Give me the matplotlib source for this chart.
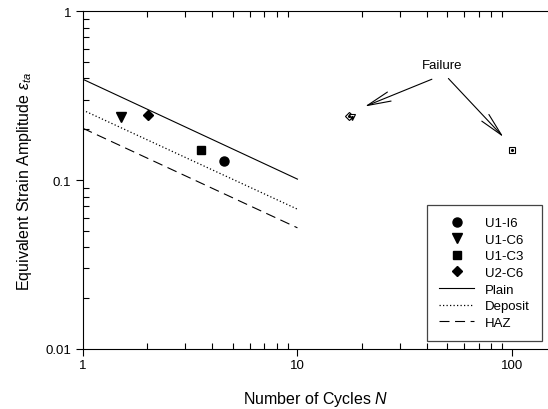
import matplotlib
matplotlib.use("Agg")
import matplotlib.pyplot as plt
import numpy as np
from matplotlib.ticker import LogLocator, NullFormatter, FixedLocator, FixedFormatter

plt.rcParams['font.family'] = ['Liberation Sans', 'DejaVu Sans']
plt.rcParams['mathtext.fontset'] = 'custom'
plt.rcParams['mathtext.rm'] = 'Liberation Sans'
plt.rcParams['mathtext.it'] = 'Liberation Sans:italic'

# ---- data ----
specimens = ['U1-I6', 'U1-C6', 'U1-C3', 'U2-C6']
spec_markers = ['o', 'v', 's', 'D']
spec_N = [4.57, 1.51, 3.54, 2.02]
spec_eps = [0.129, 0.235, 0.151, 0.243]

fail_N = [17.4, 17.9, 100.0]
fail_eps = [0.241, 0.237, 0.151]
fail_markers = ['D', 'v', 's']

curve_names = ['Plain', 'Deposit', 'HAZ']
curve_N = [1, 10]
plain_eps = [0.396, 0.1014]
deposit_eps = [0.260, 0.0673]
haz_eps = [0.203, 0.0522]

x_ticks = [1, 10, 100]
x_ticklabels = ['1', '10', '100']
y_ticks = [0.01, 0.1, 1]
y_ticklabels = ['0.01', '0.1', '1']

# ---- figure ----
fig = plt.figure(figsize=(5.48, 4.10), dpi=100)
ax = fig.add_axes([82.8/548, 60/410, 1 - 82.8/548, 337.7/410])
ax.set_xscale('log')
ax.set_yscale('log')
ax.set_xlim(1, 147)
ax.set_ylim(0.01, 1)

for name, m, n, e in zip(specimens, spec_markers, spec_N, spec_eps):
    ms = 6.5 if m in ('o', 'v') else 5.5
    ax.plot([n], [e], linestyle='none', marker=m, color='black', markersize=ms, label=name)

ax.plot(curve_N, plain_eps, color='black', lw=0.8, linestyle='-', label='Plain')
ax.plot(curve_N, deposit_eps, color='black', lw=0.9, linestyle=(0, (1, 1.8)), label='Deposit')
ax.plot(curve_N, haz_eps, color='black', lw=0.8, linestyle=(0, (9, 5)), label='HAZ')

for n, e, m in zip(fail_N, fail_eps, fail_markers):
    ax.plot([n], [e], linestyle='none', marker=m, markerfacecolor='white',
            markeredgecolor='black', markeredgewidth=0.8, markersize=4.5)
    ax.plot([n], [e], linestyle='none', marker='o', color='black', markersize=1.2)

# failure annotation
ax.text(47.3, 0.484, 'Failure', ha='center', va='center', fontsize=9.5)
arrow_kw = dict(arrowstyle='->,head_length=1.7,head_width=0.35', lw=0.8, color='black',
                shrinkA=0, shrinkB=0, mutation_scale=10)
ax.annotate('', xy=(20.6, 0.273), xytext=(42.3, 0.396), arrowprops=arrow_kw)
ax.annotate('', xy=(91.1, 0.180), xytext=(50.5, 0.400), arrowprops=arrow_kw)

# ticks
ax.xaxis.set_major_locator(FixedLocator(x_ticks))
ax.xaxis.set_major_formatter(FixedFormatter(x_ticklabels))
ax.yaxis.set_major_locator(FixedLocator(y_ticks))
ax.yaxis.set_major_formatter(FixedFormatter(y_ticklabels))
ax.xaxis.set_minor_locator(LogLocator(base=10, subs=np.arange(2, 10)))
ax.yaxis.set_minor_locator(LogLocator(base=10, subs=np.arange(2, 10)))
ax.xaxis.set_minor_formatter(NullFormatter())
ax.yaxis.set_minor_formatter(NullFormatter())
ax.tick_params(which='major', direction='out', length=5, width=0.8, labelsize=9.5,
               top=False, right=False, bottom=True, left=True)
ax.tick_params(which='minor', direction='in', length=4, width=0.8,
               top=True, right=False, bottom=True, left=True)
ax.tick_params(axis='x', which='major', pad=2)
ax.spines['right'].set_visible(False)
for s in ['left', 'bottom', 'top']:
    ax.spines[s].set_linewidth(0.8)

ax.set_xlabel('Number of Cycles $N$', fontsize=11.5, labelpad=13)
ax.set_ylabel('Equivalent Strain Amplitude $\\varepsilon_{ta}$', fontsize=11.5, labelpad=8)

leg = ax.legend(loc='lower right', bbox_to_anchor=(0.9865, 0.0246), fontsize=9.5,
                frameon=True, fancybox=False, edgecolor='#444444', framealpha=1,
                handlelength=2.7, handletextpad=0.8, borderpad=0.9, labelspacing=0.33,
                borderaxespad=0)
leg.get_frame().set_linewidth(0.9)

fig.savefig('out.png', dpi=100)
